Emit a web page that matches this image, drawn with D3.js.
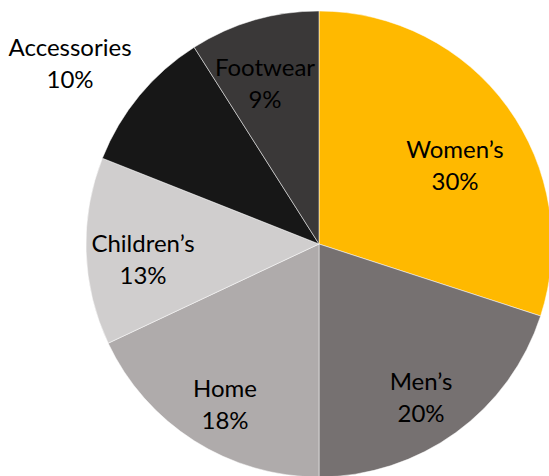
<!DOCTYPE html>
<html>
<head>
<meta charset="utf-8">
<script src="https://cdn.jsdelivr.net/npm/d3@7"></script>
<style>
  html, body { margin: 0; padding: 0; background: #fff; }
  svg { display: block; }
  text { font-family: Lato, "Open Sans", sans-serif; }
</style>
</head>
<body>
<svg id="chart" width="549" height="476"></svg>
<script>
// Sales share by department
const categories = ["Women’s", "Men’s", "Home", "Children’s", "Accessories", "Footwear"];
const shares = [30, 20, 18, 13, 10, 9];
const colors = ["#FFB900", "#767171", "#AFABAB", "#D0CECE", "#171717", "#3A3838"];

const width = 549, height = 476;
const cx = 319, cy = 244, radius = 233;

const data = categories.map((c, i) => ({ name: c, value: shares[i], color: colors[i] }));

const svg = d3.select("#chart");
const g = svg.append("g").attr("transform", `translate(${cx},${cy})`);

const pie = d3.pie().value(d => d.value).sort(null);
const arc = d3.arc().innerRadius(0).outerRadius(radius);
const arcs = pie(data);

g.selectAll("path.slice")
  .data(arcs)
  .join("path")
  .attr("class", "slice")
  .attr("d", arc)
  .attr("fill", d => d.data.color)
  .attr("stroke", "#ffffff")
  .attr("stroke-width", 0.5);

// Label block centres, relative to the pie centre (layout only)
const labelOffset = [[136, -78], [102, 154], [-94, 161], [-176, 16], [-249, -180], [-54, -160]];

const labels = g.selectAll("g.label")
  .data(arcs)
  .join("g")
  .attr("class", "label")
  .attr("transform", (d, i) => `translate(${labelOffset[i][0]},${labelOffset[i][1]})`);

labels.append("text")
  .attr("text-anchor", "middle")
  .attr("fill", "#000")
  .style("font-size", "24px")
  .attr("y", -8)
  .text(d => d.data.name);

labels.append("text")
  .attr("text-anchor", "middle")
  .attr("fill", "#000")
  .style("font-size", "24px")
  .attr("y", 24)
  .text(d => d.data.value + "%");
</script>
</body>
</html>
